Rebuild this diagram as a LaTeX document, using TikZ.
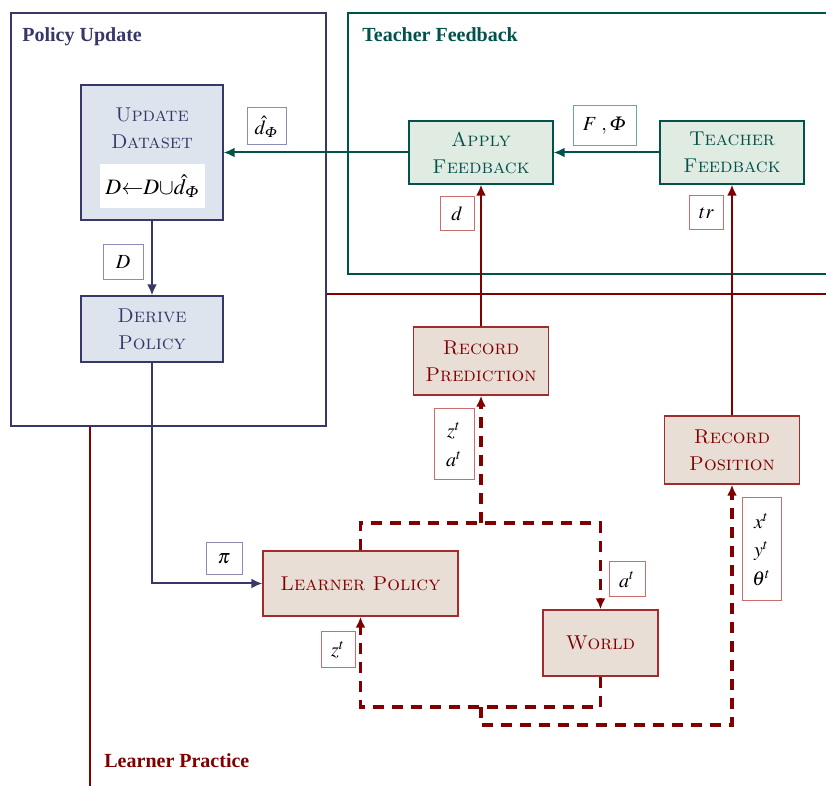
\documentclass[tikz,border=0pt]{standalone}
\usepackage{mathptmx}
\usepackage[no-math]{fontspec}
\renewcommand{\rmdefault}{lmr}
\newfontfamily\titlefont{Liberation Serif}
\usetikzlibrary{arrows.meta}
\definecolor{navy}{RGB}{55,55,105}
\definecolor{tealc}{RGB}{0,82,75}
\definecolor{dred}{RGB}{128,0,0}
\definecolor{bfill}{RGB}{222,228,237}
\definecolor{gfill}{RGB}{224,236,226}
\definecolor{rfill}{RGB}{233,222,214}
\definecolor{bline}{RGB}{140,140,185}
\definecolor{gline}{RGB}{110,165,160}
\definecolor{rline}{RGB}{200,110,110}
\definecolor{rborder}{RGB}{160,45,45}
\begin{document}
\begin{tikzpicture}[x=0.5pt,y=-0.5pt,
  frame/.style={line width=1pt},
  ttl/.style={anchor=base west,inner sep=0pt,font=\titlefont\bfseries},
  boxbase/.style={line width=0.7pt,align=center,inner sep=0pt,
    font=\fontfamily{lmr}\scshape\fontsize{10}{13.5}\selectfont},
  bluebox/.style={boxbase,draw=navy,fill=bfill,text=navy},
  greenbox/.style={boxbase,draw=tealc,fill=gfill,text=tealc},
  redbox/.style={boxbase,draw=rborder,fill=rfill,text=dred},
  lab/.style={draw,fill=white,line width=0.5pt,inner sep=2pt,align=center,
    minimum width=17pt,minimum height=17pt,font=\fontsize{10}{14.5}\selectfont},
  conn/.style={line width=1pt,-{Latex[length=5.5pt,width=5pt]}},
  dconn/.style={line width=1.6pt,dash pattern=on 5.5pt off 4pt,-{Latex[length=5.5pt,width=5pt]}}]
\useasboundingbox (0,0) rectangle (826,786);
\clip (0,0) rectangle (826,786);

% frames
\draw[frame,dred] (90,294) rectangle (900,900);
\draw[frame,navy,fill=white] (11,13) rectangle (326,426);
\draw[frame,tealc] (348,13) rectangle (900,274);
\node[ttl,text=navy] (t1) at (22,42) {Policy Update};
\node[ttl,text=tealc] (t2) at (362,42) {Teacher Feedback};
\node[ttl,text=dred] (t3) at (104,768) {Learner Practice};

% nodes
\node[bluebox,minimum width=71pt,minimum height=67.5pt] (ud) at (152,152.5) {};
\node[boxbase,text=navy] (udt) at (152,128) {Update\\Dataset};
\node[fill=white,inner sep=0pt,minimum width=52.5pt,minimum height=22pt,font=\fontsize{11}{13}\selectfont] (udf) at (152.5,186)
  {$D{\leftarrow}D{\cup}\hat{d}_{\mathnormal{\Phi}}$};
\node[bluebox,minimum width=71pt,minimum height=33pt] (dp) at (152,329) {Derive\\Policy};
\node[greenbox,minimum width=72pt,minimum height=31.5pt] (af) at (481,152.5) {Apply\\Feedback};
\node[greenbox,minimum width=72pt,minimum height=31.5pt] (tf) at (732,152.5) {Teacher\\Feedback};
\node[redbox,minimum width=67.5pt,minimum height=34pt] (rp) at (481,361) {Record\\Prediction};
\node[redbox,minimum width=67.5pt,minimum height=34pt] (rpos) at (732,450) {Record\\Position};
\node[redbox,minimum width=97.5pt,minimum height=32.5pt] (lp) at (360.5,583.5) {Learner Policy};
\node[redbox,minimum width=57.5pt,minimum height=33pt] (w) at (600.5,643) {World};

% connectors
\draw[conn,tealc] (af.west) -- (ud.east);
\draw[conn,tealc] (tf.west) -- (af.east);
\draw[conn,navy] (ud.south) -- (dp.north);
\draw[conn,navy] (dp.south) |- (lp.west);
\draw[conn,dred] (rp.north) -- (af.south);
\draw[conn,dred] (rpos.north) -- (tf.south);
\coordinate (top) at (481,523);
\coordinate (bot) at (481,707);
\coordinate (low) at (481,725);
\draw[dconn,dred] (lp.north) |- (top) -| (w.north);
\draw[dconn,dred] (top) -- (rp.south);
\draw[dconn,dred] (w.south) |- (bot) -| (lp.south);
\draw[dconn,dred] (bot) -- (low) -| (rpos.south);

% labels
\node[lab,draw=bline,minimum width=19.5pt,minimum height=18.5pt] (l1) at (266.5,126.5) {$\hat{d}_{\mathnormal{\Phi}}$};
\node[lab,draw=gline,minimum width=31.5pt,minimum height=20pt] (l2) at (604.5,126) {$F\;,\mathnormal{\Phi}$};
\node[lab,draw=bline,minimum width=20pt,minimum height=17.5pt] (l3) at (123,262.5) {$D$};
\node[lab,draw=bline,minimum width=18pt,minimum height=16pt] (l4) at (224,559) {$\pi$};
\node[lab,draw=rline] (l5) at (457,214) {$d$};
\node[lab,draw=rline] (l6) at (706.5,213) {$tr$};
\node[lab,draw=rline,minimum width=20pt,minimum height=35.5pt] (l7) at (454,444.5) {$z^t$\\$a^t$};
\node[lab,draw=rline,minimum width=18pt,minimum height=17.5pt] (l8) at (627,579.5) {$a^t$};
\node[lab,draw=rline,minimum width=17pt,minimum height=18pt] (l9) at (338,650) {$z^t$};
\node[lab,draw=rline,minimum width=19.5pt,minimum height=51.5pt,font=\fontsize{10}{14.3}\selectfont] (l10) at (761.5,549.5) {$x^t$\\$y^t$\\$\theta^t$};
\end{tikzpicture}
\end{document}
